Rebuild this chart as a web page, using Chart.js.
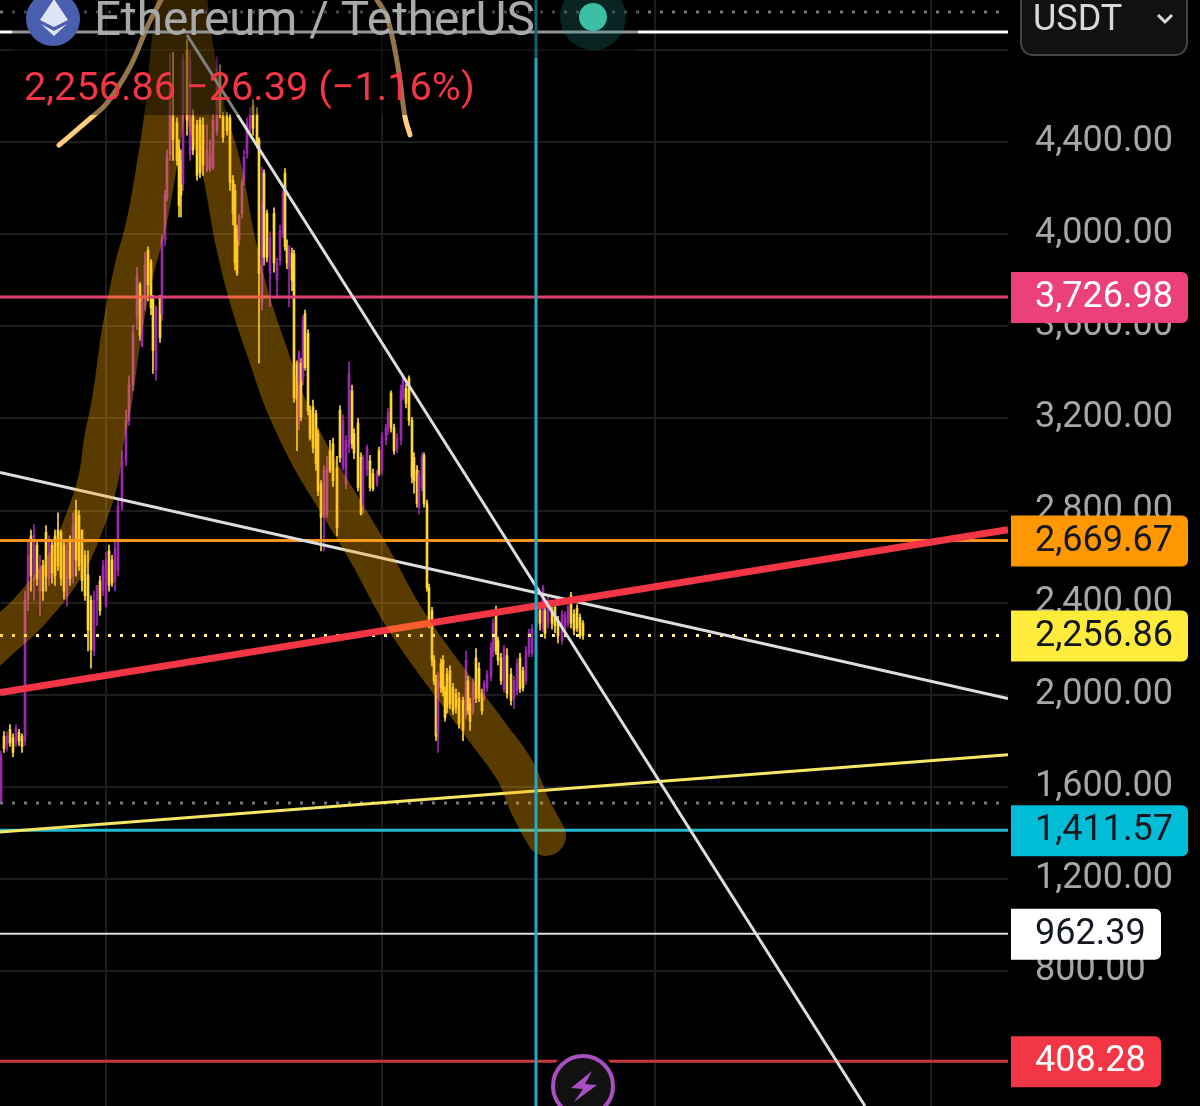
<!DOCTYPE html>
<html>
<head>
<meta charset="utf-8">
<title>Ethereum / TetherUS</title>
<style>
  body { margin: 0; background: #000; }
  canvas { display: block; }
</style>
</head>
<body>
<canvas id="myChart" width="1200" height="1106"></canvas>
<script src="https://cdn.jsdelivr.net/npm/chart.js@4/dist/chart.umd.min.js"></script>
<script>
//candles
const candleX = [
  1,4,7,10,13,16,19,22,25,28,
  31,34,37,40,43,46,49,52,55,58,
  61,64,67,70,73,76,79,82,85,88,
  91,94,97,100,103,106,109,112,115,118,
  122,126,129,133,137,140,142,145,148,151,
  153,156,160,162,165,167,170,173,177,179,
  181,183,187,190,193,197,200,203,207,210,
  213,217,220,223,227,230,233,235,237,239,
  242,244,247,250,253,257,259,262,264,267,
  270,274,277,280,283,285,287,289,292,294,
  297,299,301,303,305,308,310,313,316,318,
  321,324,327,330,333,337,340,343,346,349,
  352,354,358,361,363,367,370,373,377,379,
  382,386,388,391,394,397,401,403,406,409,
  412,414,417,419,422,424,427,429,432,434,
  436,438,441,443,445,447,450,453,456,459,
  463,466,468,470,473,476,479,482,484,487,
  491,493,496,498,501,504,507,511,514,517,
  520,523,526,529,532,537,540,543,545,548,
  552,555,558,562,565,568,571,574,577,580,
  583
];
const candleOpen = [
  1540,1820,1780,1850,1815,1790,1835,1820,1800,2410,
  2690,2495,2650,2450,2560,2705,2505,2650,2690,2715,
  2705,2650,2430,2670,2515,2800,2780,2715,2605,2520,
  2410,2190,2410,2495,2450,2385,2625,2585,2495,2540,
  2820,3015,3190,3345,3640,3780,3515,3710,3930,3880,
  3715,3410,3725,3655,3975,4160,4345,4510,4485,4375,
  4320,4220,4800,4345,4510,4475,4495,4475,4280,4285,
  4290,4450,4700,4510,4510,4505,4235,4190,4020,3975,
  4090,4235,4350,4450,4560,4525,4410,3700,4265,4090,
  3830,4090,3800,3885,4005,4265,3945,3855,3915,3915,
  3440,3180,3440,3365,3655,3570,3235,3250,3220,3135,
  2915,2770,2785,3060,3090,2985,3235,2985,2915,3075,
  3320,3135,3180,3030,2815,2975,3015,2960,2915,3060,
  2975,3105,3150,3310,3160,3070,3105,3290,3330,3375,
  3190,3030,2975,2815,2900,3040,2830,2465,2365,2150,
  2060,1830,2135,2150,2015,2090,2105,2030,2005,1985,
  1975,1915,2060,1960,1930,2160,2115,2005,1985,2030,
  2075,2180,2350,2235,2160,2025,2170,2090,1985,2015,
  2160,2105,2060,2180,2180,2310,2365,2290,2365,2310,
  2365,2380,2320,2235,2290,2310,2430,2350,2375,2335,
  2310
];
const candleClose = [
  1735,1765,1820,1790,1750,1855,1800,1775,2410,2605,
  2515,2690,2505,2560,2450,2515,2670,2530,2515,2560,
  2505,2450,2625,2505,2735,2585,2560,2495,2430,2280,
  2195,2410,2475,2365,2560,2585,2475,2485,2635,2820,
  3015,3190,3345,3570,3820,3560,3710,3865,3780,3680,
  3495,3680,3550,3975,4170,4335,4625,4410,4320,4125,
  4170,4755,4495,4755,4365,4255,4265,4300,4365,4350,
  4495,4715,4525,4420,4450,4225,4090,3875,3830,4075,
  4220,4335,4480,4520,4460,4395,3830,4135,3900,3900,
  3985,3875,3875,4015,4180,3945,3875,3945,3800,3290,
  3280,3480,3205,3625,3420,3235,3115,3075,3005,2885,
  2770,2975,2985,2975,2930,2725,3030,3190,3105,3395,
  3090,3050,2900,2785,3020,3075,2900,2895,2960,2960,
  3120,3160,3225,3160,3060,3115,3320,3375,3265,3190,
  2945,2930,2830,2960,3030,2830,2465,2310,2150,2060,
  1820,2060,2030,2015,1900,1945,1960,1930,1945,1875,
  1845,2150,1930,1885,2050,1985,1985,1930,2050,2090,
  2205,2310,2190,2150,2060,2200,2005,1975,2060,2135,
  2025,2030,2190,2270,2285,2420,2310,2465,2265,2410,
  2310,2300,2255,2350,2345,2380,2310,2280,2290,2255,
  2257
];
const candleHigh = [
  1755,1840,1840,1870,1830,1870,1850,1830,2450,2670,
  2715,2740,2670,2605,2585,2735,2690,2670,2715,2790,
  2715,2670,2670,2690,2790,2845,2800,2715,2625,2625,
  2430,2450,2475,2515,2585,2620,2650,2605,2670,2845,
  3060,3235,3385,3605,3855,3790,3735,3920,3945,3890,
  3735,3690,3735,3995,4190,4365,4785,4790,4505,4410,
  4365,4780,4845,4800,4540,4495,4505,4505,4475,4410,
  4520,4770,4735,4530,4530,4520,4255,4215,4040,4085,
  4235,4365,4505,4550,4585,4550,4420,4290,4280,4105,
  4010,4115,3895,4040,4190,4285,3975,3950,3940,3930,
  3450,3495,3460,3645,3670,3585,3255,3280,3235,3150,
  2930,2995,3035,3105,3115,3035,3255,3215,3125,3445,
  3345,3155,3200,3050,3040,3085,3040,2980,2975,3075,
  3140,3175,3245,3320,3175,3135,3345,3385,3350,3385,
  3205,3050,2995,2975,3050,3050,2845,2480,2380,2170,
  2085,2095,2155,2170,2035,2115,2125,2050,2025,2010,
  1990,2190,2080,1985,2070,2200,2140,2025,2060,2105,
  2225,2330,2385,2250,2180,2215,2200,2115,2080,2155,
  2180,2120,2210,2285,2305,2445,2385,2475,2380,2425,
  2380,2400,2340,2365,2360,2390,2445,2370,2390,2350,
  2322
];
const candleLow = [
  1530,1750,1755,1775,1730,1775,1780,1750,1780,2365,
  2450,2410,2475,2345,2410,2450,2475,2485,2475,2540,
  2475,2415,2385,2475,2485,2515,2540,2450,2410,2190,
  2115,2170,2300,2345,2430,2380,2450,2470,2450,2515,
  2800,2995,3170,3320,3585,3540,3510,3670,3710,3650,
  3395,3365,3530,3625,3950,4145,4320,4320,4300,4075,
  4075,4190,4430,4320,4345,4235,4245,4255,4270,4270,
  4280,4430,4505,4400,4430,4190,4040,3845,3820,3950,
  4070,4215,4330,4430,4430,4375,3440,3670,3865,3880,
  3685,3835,3720,3865,3985,3930,3850,3685,3755,3270,
  3060,3150,3190,3345,3410,3215,3105,3050,2975,2865,
  2625,2625,2770,2965,2905,2690,3010,2975,2895,3050,
  3070,3025,2885,2780,2790,2950,2885,2885,2905,2950,
  2955,3085,3130,3140,3045,3050,3085,3280,3245,3170,
  2920,2875,2815,2785,2885,2815,2450,2290,2125,2045,
  1800,1750,2010,1995,1885,1920,1940,1915,1920,1855,
  1800,1895,1915,1845,1915,1965,1970,1915,1975,2015,
  2060,2165,2175,2130,2045,2010,1985,1955,1940,2000,
  2010,2015,2045,2165,2165,2295,2280,2275,2245,2290,
  2285,2270,2225,2220,2280,2295,2290,2260,2275,2245,
  2240
];

//axis
const yTicks = [4800, 4400, 4000, 3600, 3200, 2800, 2400, 2000, 1600, 1200, 800];
const xGridTicks = [106, 382, 655, 931];

//price tags on the right
const tagValues = [3726.98, 2669.67, 2256.86, 1411.57, 962.39, 408.28];
const tagColors = ["#ec407a", "#ff9800", "#ffeb3b", "#00bcd4", "#ffffff", "#f23645"];
const tagTextColors = ["#ffffff", "#131722", "#131722", "#131722", "#131722", "#ffffff"];

//drawn trend lines, start and end price over the x range
const redTrend = [2009, 2717];
const whiteTrend = [2965, 1983];
const yellowTrend = [1404, 1739];
const steepX = [187, 865];
const steepTrend = [4865, 214];
const verticalX = 536;
const topLinePrice = 4878;
const topDotsPrice = 4965;
const lowDotsPrice = 1530;

//hand drawn brush stroke and the two thin arcs
const brushX = [-30, 0, 30, 65, 85, 98, 104, 112, 122, 134, 146, 156, 165, 172, 182, 192, 205, 222, 235, 250, 270, 284, 310, 340, 370, 400, 430, 460, 490, 515, 530, 546];
const brushPrice = [2126, 2243, 2365, 2561, 2757, 2930, 3104, 3278, 3583, 3844, 4039, 4278, 4539, 4844, 5148, 4844, 4539, 4278, 3974, 3713, 3452, 3278, 3039, 2822, 2604, 2365, 2170, 1996, 1822, 1670, 1517, 1387];
const arcLeftX = [59, 92, 107, 130, 149, 161, 170];
const arcLeftPrice = [4387, 4509, 4570, 4726, 4917, 5017, 5100];
const arcRightX = [410, 405, 398, 387, 377];
const arcRightPrice = [4431, 4509, 4726, 4944, 5017];

const X_MAX = 1008;
const Y_MIN = 214;
const Y_MAX = 5017;
const UP = "#9c27b0";
const DOWN = "#fdd835";
const FONT = "Roboto";

const money = (v) => v.toLocaleString("en-US", { minimumFractionDigits: 2, maximumFractionDigits: 2 });

const lineSet = (label, xs, ys, color, width, extra) => ({
  type: "line",
  label: label,
  data: xs.map((x, i) => ({ x: x, y: ys[i] })),
  borderColor: color,
  borderWidth: width,
  pointRadius: 0,
  fill: false,
  ...extra
});
const level = (label, price, color, width, extra) => lineSet(label, [0, X_MAX], [price, price], color, width, extra);

const candleColors = candleOpen.map((o, i) => candleClose[i] >= o ? UP : DOWN);
const bars = (label, lo, hi, thickness) => ({
  label: label,
  data: candleX.map((x, i) => ({ x: x, y: [lo[i], hi[i]] })),
  backgroundColor: candleColors,
  barThickness: thickness,
  grouped: false
});

const dots = { borderDash: [3, 9] };
const round = { borderCapStyle: "round", borderJoinStyle: "round" };

//first in the list is drawn on top
const datasets = [
  lineSet("vertical", [verticalX, verticalX], [4765, Y_MIN], "#22a9c4", 3),
  lineSet("vertical top", [verticalX, verticalX], [Y_MAX, 4765], "#22a9c4", 3),
  level("top line", topLinePrice, "#ffffff", 3),
  level("top dots", topDotsPrice, "#777777", 3, dots),
  lineSet("steep", steepX, steepTrend, "#dddddd", 3),
  lineSet("arc left", arcLeftX, arcLeftPrice, "#ffcc80", 5, { tension: 0.4, ...round }),
  lineSet("arc right", arcRightX, arcRightPrice, "#ffcc80", 5, { tension: 0.4, ...round }),
  lineSet("brush", brushX, brushPrice, "rgba(255,170,0,0.35)", 40, { tension: 0.4, ...round }),
  lineSet("red trend", [0, X_MAX], redTrend, "#f23645", 7),
  lineSet("white trend", [0, X_MAX], whiteTrend, "#dddddd", 3),
  lineSet("yellow trend", [0, X_MAX], yellowTrend, "#f5e663", 3),
  level("3726.98", tagValues[0], "#e0406f", 3),
  level("2669.67", tagValues[1], "#f7931a", 3),
  level("last", tagValues[2], "#ffee88", 3, dots),
  level("1411.57", tagValues[3], "#22b8d0", 3),
  level("962.39", tagValues[4], "#dddddd", 2),
  level("408.28", tagValues[5], "#c9373f", 3),
  level("low dots", lowDotsPrice, "#777777", 3, dots),
  bars("body", candleOpen, candleClose, 2),
  bars("wick", candleLow, candleHigh, 1)
];

//dims what sits under the header
const headerShade = {
  id: "headerShade",
  afterDatasetDraw(chart, args) {
    if (chart.data.datasets[args.index].label !== "vertical top") return;
    const ctx = chart.ctx;
    ctx.save();
    ctx.fillStyle = "rgba(0,0,0,0.42)";
    ctx.fillRect(12, 0, 626, 115);
    ctx.restore();
  }
};

const drawHeader = (ctx) => {
  //teal status dot
  ctx.fillStyle = "rgba(38,166,154,0.22)";
  ctx.beginPath();
  ctx.arc(593, 17, 33, 0, Math.PI * 2);
  ctx.fill();
  ctx.fillStyle = "#3dbfa5";
  ctx.beginPath();
  ctx.arc(593, 17, 14, 0, Math.PI * 2);
  ctx.fill();

  //coin icon
  ctx.fillStyle = "#4a5fb0";
  ctx.beginPath();
  ctx.arc(53, 19, 27, 0, Math.PI * 2);
  ctx.fill();
  ctx.fillStyle = "#dfe5f7";
  ctx.beginPath();
  ctx.moveTo(54, -1);
  ctx.lineTo(68, 20);
  ctx.lineTo(54, 27);
  ctx.lineTo(40, 20);
  ctx.closePath();
  ctx.fill();
  ctx.beginPath();
  ctx.moveTo(41, 24);
  ctx.lineTo(54, 31);
  ctx.lineTo(67, 24);
  ctx.lineTo(54, 36);
  ctx.closePath();
  ctx.fill();

  ctx.textAlign = "left";
  ctx.textBaseline = "alphabetic";
  ctx.fillStyle = "#a9a9a9";
  ctx.font = "47.7px " + FONT;
  ctx.fillText("Ethereum / TetherUS", 94, 35);
  ctx.fillStyle = "#f23645";
  ctx.font = "39.7px " + FONT;
  ctx.fillText("2,256.86 \u221226.39 (\u22121.16%)", 24, 100);

  //currency button
  ctx.fillStyle = "#111111";
  ctx.strokeStyle = "#444444";
  ctx.lineWidth = 2;
  ctx.beginPath();
  ctx.roundRect(1021, -20, 166, 75, 12);
  ctx.fill();
  ctx.stroke();
  ctx.fillStyle = "#d8d8d8";
  ctx.font = "36px " + FONT;
  ctx.fillText("USDT", 1033, 30);
  ctx.strokeStyle = "#d8d8d8";
  ctx.lineWidth = 3;
  ctx.beginPath();
  ctx.moveTo(1158, 15);
  ctx.lineTo(1165, 22);
  ctx.lineTo(1172, 15);
  ctx.stroke();
};

const drawTags = (ctx, scale) => {
  ctx.font = "36px " + FONT;
  ctx.textAlign = "left";
  ctx.textBaseline = "middle";
  tagValues.forEach((v, i) => {
    const y = scale.getPixelForValue(v);
    const w = v < 1000 ? 150 : 177;
    ctx.fillStyle = tagColors[i];
    ctx.beginPath();
    ctx.roundRect(1011, y - 25, w, 51, [0, 6, 6, 0]);
    ctx.fill();
    ctx.fillStyle = tagTextColors[i];
    ctx.fillText(money(v), 1035, y + 1);
  });
};

const drawBolt = (ctx) => {
  ctx.fillStyle = "#000000";
  ctx.beginPath();
  ctx.arc(583, 1086, 36, 0, Math.PI * 2);
  ctx.fill();
  ctx.fillStyle = "#111111";
  ctx.strokeStyle = "#a94fc4";
  ctx.lineWidth = 4;
  ctx.beginPath();
  ctx.arc(583, 1086, 30, 0, Math.PI * 2);
  ctx.fill();
  ctx.stroke();
  ctx.fillStyle = "#a94fc4";
  ctx.beginPath();
  ctx.moveTo(592, 1071);
  ctx.lineTo(571, 1088);
  ctx.lineTo(583, 1089);
  ctx.lineTo(574, 1102);
  ctx.lineTo(597, 1085);
  ctx.lineTo(585, 1084);
  ctx.closePath();
  ctx.fill();
};

const overlay = {
  id: "overlay",
  afterDraw(chart) {
    const ctx = chart.ctx;
    ctx.save();
    drawHeader(ctx);
    drawTags(ctx, chart.scales.y);
    drawBolt(ctx);
    ctx.restore();
  }
};

new Chart(document.getElementById("myChart"), {
  type: "bar",
  data: { datasets: datasets },
  plugins: [headerShade, overlay],
  options: {
    responsive: false,
    animation: false,
    layout: { padding: 0 },
    plugins: { legend: { display: false }, tooltip: { enabled: false } },
    scales: {
      x: {
        type: "linear",
        min: 0,
        max: X_MAX,
        offset: false,
        afterBuildTicks: (axis) => { axis.ticks = xGridTicks.map((v) => ({ value: v })); },
        ticks: { display: false },
        grid: { color: "#1c1c1c", lineWidth: 2, drawTicks: false, offset: false },
        border: { display: false }
      },
      y: {
        position: "right",
        min: Y_MIN,
        max: Y_MAX,
        afterBuildTicks: (axis) => { axis.ticks = yTicks.map((v) => ({ value: v })); },
        afterFit: (axis) => {
          axis.width = 192;
          axis.paddingTop = 0;
          axis.paddingBottom = 0;
        },
        ticks: {
          autoSkip: false,
          padding: 27,
          labelOffset: 0,
          color: "#a6a6a6",
          font: { family: FONT, size: 36 },
          callback: (v) => v > 4400 ? "" : money(v)
        },
        grid: { color: "#1c1c1c", lineWidth: 2, drawTicks: false },
        border: { display: false }
      }
    }
  }
});
</script>
</body>
</html>
